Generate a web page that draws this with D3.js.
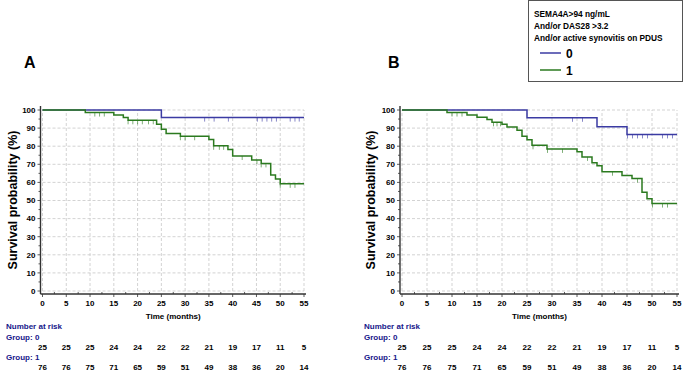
<!DOCTYPE html>
<html>
<head>
<meta charset="utf-8">
<script src="https://cdn.jsdelivr.net/npm/d3@7"></script>
<style>
  body { margin: 0; background: #fff; }
  svg text { font-family: "Liberation Sans", Arial, sans-serif; font-weight: bold; }
</style>
</head>
<body>
<div id="chart"></div>
<script>
// x ticks (months) and number at risk rows
let monthTicks = [0, 5, 10, 15, 20, 25, 30, 35, 40, 45, 50, 55];
let survTicks = [0, 10, 20, 30, 40, 50, 60, 70, 80, 90, 100];
let riskGroup0 = [25, 25, 25, 24, 24, 22, 22, 21, 19, 17, 11, 5];
let riskGroup1 = [76, 76, 75, 71, 65, 59, 51, 49, 38, 36, 20, 14];

// panel A - [month, survival %] at each step
let stepsA0 = [[0, 100], [25, 95.8]];
let censorA0 = [34.1, 36.1, 39.1, 45.2, 46.2, 47.2, 48.2, 49.2, 52.1, 53.1, 54];
let stepsA1 = [[0, 100], [9, 98.6], [15, 97.2], [17, 95.8], [18, 94.3], [24, 92.1], [25, 89.4],
  [26, 87.0], [29, 85.5], [35, 83.7], [36, 80.2], [39, 78.2], [40, 74.6], [44, 72.4],
  [46, 70.5], [48, 64.1], [49, 61.9], [50, 59.2]];
let censorA1 = [11, 12, 13, 18, 19, 20, 21, 22.3, 23.3, 29, 30, 32, 36, 37.2, 38.1, 42, 45.1, 46, 47, 50, 52.1, 53.1];

// panel B
let stepsB0 = [[0, 100], [25, 95.7], [39, 90.7], [45, 86.5]];
let censorB0 = [34.1, 36.1, 45.1, 46.1, 47.1, 48.1, 49.1, 52.1, 53.1, 54.1];
let stepsB1 = [[0, 100], [9, 98.6], [13, 97.3], [15, 96.0], [17, 94.8], [18, 93.2], [20, 92.1],
  [21, 90.6], [23, 88.8], [24, 85.5], [25, 83.6], [26, 80.5], [29, 78.5], [35, 77.0],
  [36, 74.1], [38, 70.9], [39, 69.2], [40, 65.9], [44, 63.8], [46, 62.1], [48, 54.6],
  [49, 50.9], [50, 48.3]];
let censorB1 = [10, 11, 12, 18.3, 19, 19.7, 26.2, 29.1, 32.1, 37.1, 42.1, 47.1, 50.1, 52.1, 53.1];

let legendLines = ["SEMA4A>94 ng/mL", "And/or DAS28 >3.2", "And/or active synovitis on PDUS"];
let groupNames = ["0", "1"];
let endMonth = 55;

let blue = "#3b3ba3", green = "#2b7a1f", navy = "#16168a";

let svg = d3.select("#chart").append("svg")
  .attr("width", 685).attr("height", 371);

function survAt(steps, t) {
  let v = steps[0][1];
  steps.forEach(function(s) { if (s[0] <= t) v = s[1]; });
  return v;
}

function drawPanel(letter, x0, x1, letterX, labelX, riskX, s0, c0, s1, c1) {
  let xScale = d3.scaleLinear().domain([0, 55]).range([x0, x1]);
  let yScale = d3.scaleLinear().domain([0, 100]).range([291, 110]);
  let g = svg.append("g");

  // gridlines
  g.selectAll(".vg").data(monthTicks).enter().append("line")
    .attr("x1", d => xScale(d)).attr("x2", d => xScale(d))
    .attr("y1", yScale(0)).attr("y2", yScale(100))
    .attr("stroke", "#c8c8c8").attr("stroke-width", 0.8).attr("stroke-dasharray", "3,2");
  g.selectAll(".hg").data(survTicks).enter().append("line")
    .attr("x1", xScale(0)).attr("x2", xScale(55))
    .attr("y1", d => yScale(d)).attr("y2", d => yScale(d))
    .attr("stroke", "#c8c8c8").attr("stroke-width", 0.8).attr("stroke-dasharray", "3,2");

  // axes (offset a bit from the data area like the original)
  let axX = x0 - 2, axY = 294;
  g.append("line").attr("x1", axX).attr("x2", axX).attr("y1", 106).attr("y2", axY)
    .attr("stroke", "#333").attr("stroke-width", 1.4);
  g.append("line").attr("x1", axX).attr("x2", x1 + 2).attr("y1", axY).attr("y2", axY)
    .attr("stroke", "#333").attr("stroke-width", 1.4);

  // y ticks
  g.selectAll(".yt").data(d3.range(0, 101, 5)).enter().append("line")
    .attr("x1", d => d % 10 == 0 ? axX - 3 : axX - 2).attr("x2", axX)
    .attr("y1", d => yScale(d)).attr("y2", d => yScale(d))
    .attr("stroke", "#333").attr("stroke-width", 0.8);
  g.selectAll(".yl").data(survTicks).enter().append("text")
    .attr("x", axX - 5).attr("y", d => yScale(d) + 2.8)
    .attr("text-anchor", "end").attr("font-size", "8px").text(d => d);

  // x ticks
  g.selectAll(".xt").data(d3.range(0, 56, 2.5)).enter().append("line")
    .attr("x1", d => xScale(d)).attr("x2", d => xScale(d))
    .attr("y1", axY).attr("y2", d => d % 5 == 0 ? axY + 3 : axY - 2)
    .attr("stroke", "#333").attr("stroke-width", 0.8);
  g.selectAll(".xl").data(monthTicks).enter().append("text")
    .attr("x", d => xScale(d)).attr("y", 306)
    .attr("text-anchor", "middle").attr("font-size", "8px").text(d => d);

  g.append("text").attr("x", (x0 + x1) / 2).attr("y", 319)
    .attr("text-anchor", "middle").attr("font-size", "8px").text("Time (months)");

  g.append("text")
    .attr("transform", "translate(" + labelX + ",200) rotate(-90)")
    .attr("text-anchor", "middle").attr("font-size", "12.5px")
    .text("Survival probability (%)");

  g.append("text").attr("x", letterX).attr("y", 68).attr("font-size", "16px").text(letter);

  // curves
  let line = d3.line().x(d => xScale(d[0])).y(d => yScale(d[1])).curve(d3.curveStepAfter);
  [[s0, c0, blue], [s1, c1, green]].forEach(function(c) {
    let pts = c[0].concat([[endMonth, c[0][c[0].length - 1][1]]]);
    g.append("path").datum(pts).attr("d", line)
      .attr("fill", "none").attr("stroke", c[2]).attr("stroke-width", 1.5);
    g.selectAll(null).data(c[1]).enter().append("line")
      .attr("x1", d => xScale(d)).attr("x2", d => xScale(d))
      .attr("y1", d => yScale(survAt(c[0], d))).attr("y2", d => yScale(survAt(c[0], d)) + 4)
      .attr("stroke", c[2]).attr("stroke-opacity", 0.6).attr("stroke-width", 1);
  });

  // number at risk
  g.append("text").attr("x", riskX).attr("y", 329).attr("font-size", "8px")
    .attr("fill", navy).text("Number at risk");
  g.append("text").attr("x", riskX).attr("y", 339.5).attr("font-size", "8px")
    .attr("fill", navy).text("Group: 0");
  g.append("text").attr("x", riskX).attr("y", 360).attr("font-size", "8px")
    .attr("fill", navy).text("Group: 1");
  g.selectAll(".r0").data(riskGroup0).enter().append("text")
    .attr("x", (d, i) => xScale(monthTicks[i])).attr("y", 350)
    .attr("text-anchor", "middle").attr("font-size", "8px").text(d => d);
  g.selectAll(".r1").data(riskGroup1).enter().append("text")
    .attr("x", (d, i) => xScale(monthTicks[i])).attr("y", 370)
    .attr("text-anchor", "middle").attr("font-size", "8px").text(d => d);
}

drawPanel("A", 42.5, 304, 24, 17, 6, stepsA0, censorA0, stepsA1, censorA1);
drawPanel("B", 402, 677, 388, 375, 364, stepsB0, censorB0, stepsB1, censorB1);

// legend
let leg = svg.append("g");
leg.append("rect").attr("x", 528.5).attr("y", 0.5).attr("width", 154).attr("height", 81)
  .attr("fill", "#fff").attr("stroke", "#555").attr("stroke-width", 1);
leg.selectAll(".lt").data(legendLines).enter().append("text")
  .attr("x", 534).attr("y", (d, i) => 17 + i * 12)
  .attr("font-size", "8.3px").text(d => d);
[blue, green].forEach(function(col, i) {
  leg.append("line").attr("x1", 540).attr("x2", 561)
    .attr("y1", 53 + i * 17).attr("y2", 53 + i * 17)
    .attr("stroke", col).attr("stroke-width", 1.5);
  leg.append("text").attr("x", 566).attr("y", 57.5 + i * 17)
    .attr("font-size", "12px").text(groupNames[i]);
});
</script>
</body>
</html>
